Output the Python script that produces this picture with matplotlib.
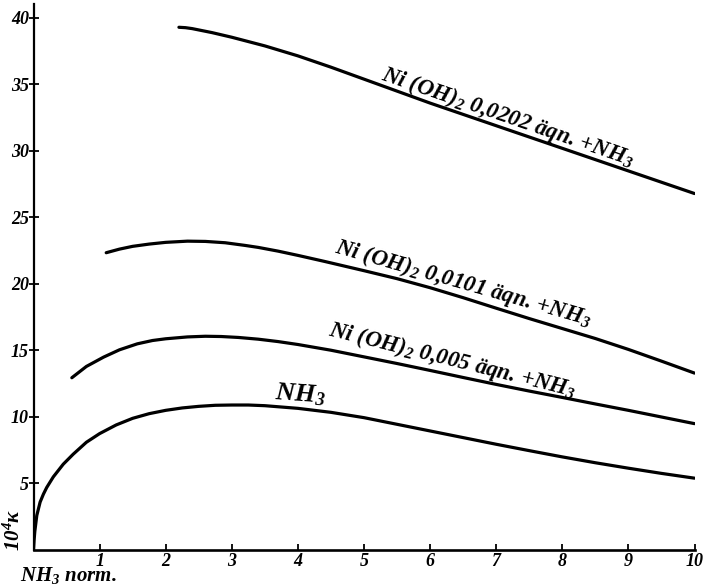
import matplotlib
matplotlib.use("Agg")
import matplotlib.pyplot as plt

# Conductivity 10^4·κ of ammonia solutions vs. NH3 normality
nh3_x = [0, 0.01, 0.02, 0.05, 0.1, 0.15, 0.2, 0.3, 0.45, 0.6, 0.8, 1.0, 1.25, 1.5,
         1.75, 2.0, 2.25, 2.5, 2.75, 3.0, 3.25, 3.5, 4.0, 4.5, 5.0, 5.5, 6.0,
         6.5, 7.0, 7.5, 8.0, 8.5, 9.0, 9.5, 10.0]
nh3_y = [0, 0.8, 1.4, 2.6, 3.6, 4.2, 4.7, 5.5, 6.45, 7.2, 8.1, 8.75, 9.4, 9.9,
         10.25, 10.5, 10.68, 10.8, 10.88, 10.9, 10.9, 10.85, 10.65, 10.35, 9.95,
         9.45, 8.95, 8.45, 7.95, 7.47, 7.0, 6.56, 6.15, 5.76, 5.4]

ni005_x = [0.58, 0.8, 1.06, 1.3, 1.57, 1.8, 2.0, 2.33, 2.6, 2.84, 3.1, 3.4, 3.7,
           4.0, 4.5, 5.0, 5.5, 6.0, 6.5, 7.0, 7.5, 8.0, 8.5, 9.0, 9.5, 10.0]
ni005_y = [12.95, 13.8, 14.5, 15.05, 15.5, 15.75, 15.88, 16.02, 16.07, 16.05,
           15.98, 15.85, 15.67, 15.45, 15.02, 14.52, 14.02, 13.5, 12.97, 12.45,
           11.95, 11.47, 10.98, 10.5, 10.0, 9.5]

ni0101_x = [1.1, 1.3, 1.5, 1.75, 2.0, 2.33, 2.6, 2.9, 3.2, 3.4, 3.7, 4.0, 4.4,
            5.0, 5.5, 6.0, 6.5, 7.0, 7.5, 8.0, 8.5, 9.0, 9.5, 10.0]
ni0101_y = [22.35, 22.62, 22.83, 23.0, 23.13, 23.22, 23.2, 23.1, 22.9, 22.75,
            22.47, 22.15, 21.7, 21.0, 20.4, 19.72, 18.97, 18.18, 17.4, 16.65,
            15.9, 15.08, 14.2, 13.3]

ni0202_x = [2.2, 2.3, 2.4, 2.7, 3.0, 3.5, 4.0, 4.5, 5.0, 5.5, 6.0, 6.5, 7.0, 7.5,
            8.0, 8.5, 9.0, 9.5, 10.0]
ni0202_y = [39.3, 39.27, 39.2, 38.9, 38.55, 37.9, 37.15, 36.3, 35.4, 34.5, 33.6,
            32.75, 31.9, 31.05, 30.2, 29.35, 28.5, 27.65, 26.8]

x_ticks = list(range(1, 11))
y_ticks = list(range(5, 45, 5))

series_labels = [
    "Ni (OH)$_2$ 0,0202 äqn. +NH$_3$",
    "Ni (OH)$_2$ 0,0101 äqn. +NH$_3$",
    "Ni (OH)$_2$ 0,005 äqn. +NH$_3$",
    "NH$_3$",
]

serif = "Liberation Serif"
plt.rcParams["font.family"] = [serif, "DejaVu Serif"]
plt.rcParams["font.style"] = "italic"
plt.rcParams["font.weight"] = "bold"
plt.rcParams["mathtext.fontset"] = "custom"
plt.rcParams["mathtext.rm"] = f"{serif}:italic:bold"
plt.rcParams["mathtext.it"] = f"{serif}:italic:bold"
plt.rcParams["mathtext.bf"] = f"{serif}:italic:bold"

W, H = 705, 586
fig = plt.figure(figsize=(W / 100, H / 100), dpi=100)
ax = fig.add_axes([33.5 / W, 36 / H, 661 / W, 546 / H])

lw = 2.3
for xs, ys in [(nh3_x, nh3_y), (ni005_x, ni005_y),
               (ni0101_x, ni0101_y), (ni0202_x, ni0202_y)]:
    ax.plot(xs, ys, color="black", lw=lw, solid_capstyle="round",
            solid_joinstyle="round")

ax.set_xlim(0, 10)
ax.set_ylim(0, 41.05)
for s in ("top", "right"):
    ax.spines[s].set_visible(False)
ax.spines["left"].set_linewidth(1.6)
ax.spines["bottom"].set_linewidth(1.9)

ax.set_xticks(x_ticks)
ax.set_xticklabels([str(v) for v in x_ticks])
ax.set_yticks(y_ticks)
ax.set_yticklabels([str(v) for v in y_ticks])
ax.tick_params(axis="x", direction="in", length=4.5, width=1.3, pad=2,
               labelsize=13)
ax.tick_params(axis="y", direction="inout", length=6.5, width=1.3, pad=0,
               labelsize=13)

label_pos = [(7.18, 32.55, -19, 16.5), (6.5, 20.05, -16, 16.5),
             (6.34, 14.25, -14, 16.5), (4.03, 11.7, -4, 19)]
for text, (lx, ly, rot, fs) in zip(series_labels, label_pos):
    ax.text(lx, ly, text, fontsize=fs, rotation=rot, rotation_mode="anchor",
            ha="center", va="center")

fig.text(20 / W, 1 - 575 / H, "NH$_3$ norm.", fontsize=15, ha="left",
         va="center")
fig.text(14 / W, 1 - 530 / H, "10$^4$κ", fontsize=15, rotation=90,
         ha="center", va="center")

fig.savefig("out.png", dpi=100, facecolor="white")
